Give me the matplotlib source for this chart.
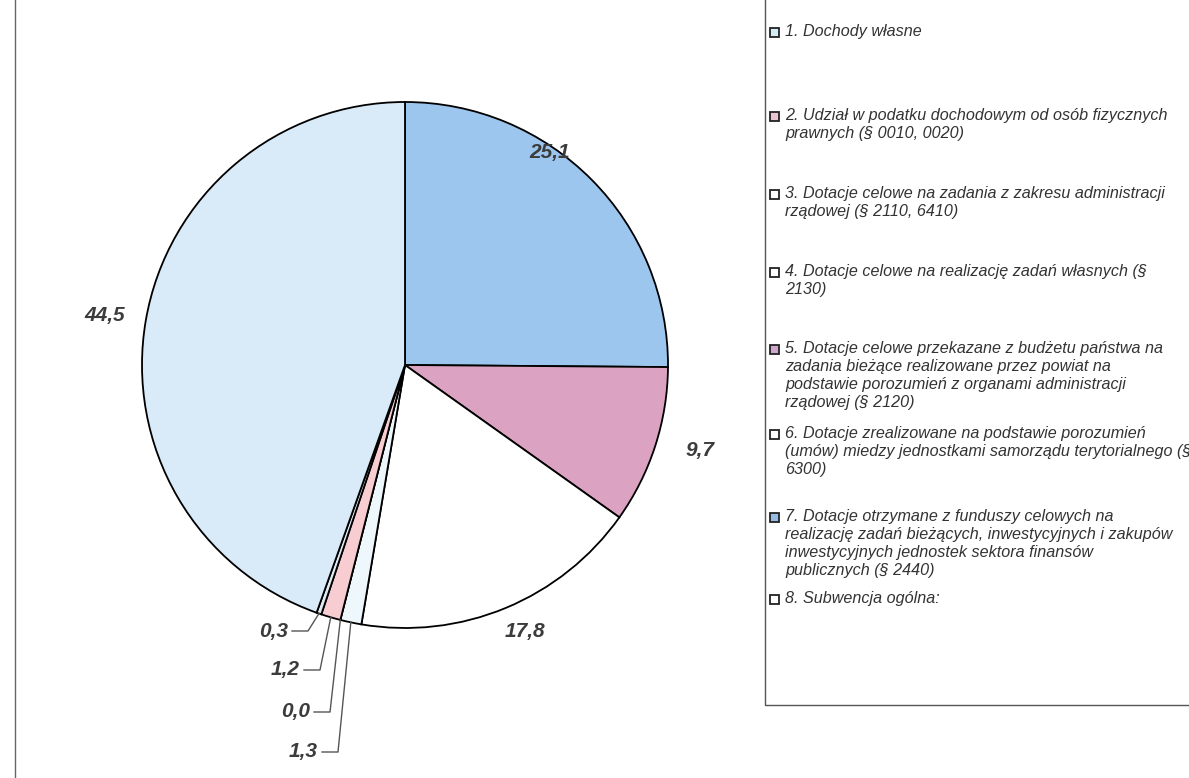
import numpy as np
import matplotlib.pyplot as plt
from matplotlib.patches import Rectangle
from matplotlib.lines import Line2D

# values in clockwise order starting from the top of the pie
values = [25.1, 9.7, 17.8, 1.3, 0.0, 1.2, 0.3, 44.5]
value_labels = ['25,1', '9,7', '17,8', '1,3', '0,0', '1,2', '0,3', '44,5']
slice_colors = ['#9dc6ef', '#dca2c2', '#ffffff', '#eef7fb', '#ffffff',
                '#f8cdd2', '#dfeaf5', '#d9eaf8']

legend_labels = [
    "1. Dochody własne",
    "2. Udział w podatku dochodowym od osób fizycznych\nprawnych (§ 0010, 0020)",
    "3. Dotacje celowe na zadania z zakresu administracji\nrządowej (§ 2110, 6410)",
    "4. Dotacje celowe na realizację zadań własnych (§\n2130)",
    "5. Dotacje celowe przekazane z budżetu państwa na\nzadania bieżące realizowane przez powiat na\n"
    "podstawie porozumień z organami administracji\nrządowej (§ 2120)",
    "6. Dotacje zrealizowane na podstawie porozumień\n(umów) miedzy jednostkami samorządu terytorialnego (§\n6300)",
    "7. Dotacje otrzymane z funduszy celowych na\nrealizację zadań bieżących, inwestycyjnych i zakupów\n"
    "inwestycyjnych jednostek sektora finansów\npublicznych (§ 2440)",
    "8. Subwencja ogólna:",
]
legend_colors = ['#d3ecf3', '#ecc2cf', '#ffffff', '#ffffff', '#cfa6cc',
                 '#ffffff', '#93bbe3', '#ffffff']

# layout (pixels)
W, H = 1189, 778
cx, cy, R = 405, 365, 263
big_label_pos = {0: (550, 152), 1: (700, 450), 2: (525, 632), 7: (105, 315)}
small_label_pos = {6: (288, 631), 5: (300, 670), 4: (310, 712), 3: (318, 752)}
legend_y = [33, 117, 195, 273, 350, 435, 518, 600]

fig = plt.figure(figsize=(W / 100, H / 100), dpi=100)
ax = fig.add_axes([0, 0, 1, 1])

# y axis is inverted, so counterclock=True draws clockwise on screen
wedges, _ = ax.pie(values, colors=slice_colors, startangle=-90, counterclock=True,
                   center=(cx, cy), radius=R,
                   wedgeprops=dict(edgecolor='black', linewidth=1.3))
ax.set_xlim(0, W)
ax.set_ylim(H, 0)
ax.set_aspect('equal', adjustable='box')
ax.axis('off')

lab_kw = dict(fontsize=15, fontweight='bold', fontstyle='italic', color='#3c3c3c',
              family=['Liberation Sans', 'DejaVu Sans'])

for i, (x, y) in big_label_pos.items():
    ax.text(x, y, value_labels[i], ha='center', va='center', **lab_kw)

# small slices get a label with a leader line to the rim
for i, (x, y) in small_label_pos.items():
    ax.text(x, y, value_labels[i], ha='right', va='center', **lab_kw)
    w = wedges[i]
    th = np.deg2rad((w.theta1 + w.theta2) / 2)
    px, py = cx + R * np.cos(th), cy + R * np.sin(th)
    ax.plot([x + 4, x + 20, px], [y, y, py], color='#555555', linewidth=1.0)

# legend block
leg_kw = dict(fontsize=11.6, fontstyle='italic', color='#333333', va='top',
              linespacing=1.24, family=['Liberation Sans', 'DejaVu Sans'])
for lab, col, y in zip(legend_labels, legend_colors, legend_y):
    ax.add_patch(Rectangle((770, y - 5), 9, 9, facecolor=col, edgecolor='#222222',
                           linewidth=1.3))
    ax.text(785, y - 9, lab, **leg_kw)

# frame lines of the scanned chart
ax.add_line(Line2D([765, 765, W], [0, 705, 705], color='#555555', linewidth=1.0))
ax.add_line(Line2D([15, 15], [0, H], color='#666666', linewidth=1.0))

fig.savefig('out.png', dpi=100)
